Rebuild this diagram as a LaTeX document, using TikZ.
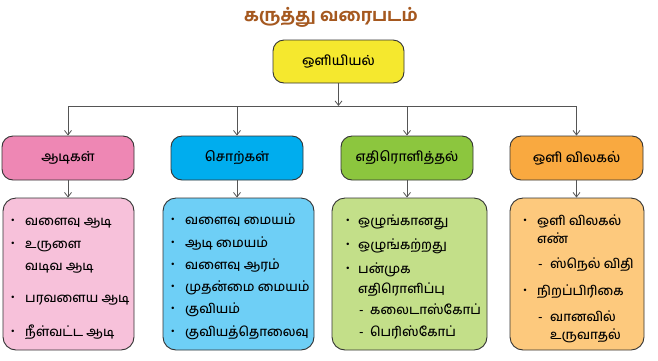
\documentclass[tikz,border=0pt]{standalone}
\usepackage{fontspec}
\setmainfont{Hind Madurai}[Script=Tamil, UprightFont=* Medium, BoldFont=* Bold]
\newfontfamily\symf{DejaVu Sans}
\usetikzlibrary{arrows.meta}
\definecolor{titlec}{HTML}{A5581F}
\definecolor{rootc}{HTML}{F5E82E}
\definecolor{pinkA}{HTML}{EE87B4}
\definecolor{pinkB}{HTML}{F7C1DA}
\definecolor{blueA}{HTML}{00ADEE}
\definecolor{blueB}{HTML}{6ECFF6}
\definecolor{greenA}{HTML}{8CC63E}
\definecolor{greenB}{HTML}{C3DF89}
\definecolor{orA}{HTML}{F9A940}
\definecolor{orB}{HTML}{FDC97D}
\definecolor{edgec}{HTML}{333333}
\definecolor{linec}{HTML}{555555}
\tikzset{
  box/.style={draw=edgec, line width=0.9pt, rounded corners=11pt, align=center, inner sep=0pt, font=\fontsize{13.5}{16}\selectfont},
  catbox/.style={box, minimum width=132pt, minimum height=44pt},
  detbox/.style={draw=edgec, line width=0.9pt, rounded corners=13pt, inner sep=0pt, minimum height=152pt},
  conn/.style={draw=linec, line width=0.8pt},
  arr/.style={conn, -{Straight Barb[length=4.5pt,width=7pt]}},
  txt/.style={anchor=base west, inner sep=0pt, font=\fontsize{13}{15}\selectfont},
  bul/.style={anchor=base, inner sep=0pt, yshift=1.5pt, font=\symf\fontsize{8.5}{9}\selectfont},
}
\begin{document}
\begin{tikzpicture}[x=1pt,y=-1pt]
\useasboundingbox (0,0) rectangle (658,360);
\node[font=\bfseries\fontsize{17.5}{20}\selectfont, text=titlec] (title) at (331,17) {கருத்து வரைபடம்};
\node[catbox, fill=rootc, minimum width=131pt, minimum height=43pt] (root) at (338.5,61.5) {ஒளியியல்};
\node[catbox, fill=pinkA] (c1) at (68,158) {ஆடிகள்};
\node[catbox, fill=blueA] (c2) at (237,158) {சொற்கள்};
\node[catbox, fill=greenA] (c3) at (407,158) {எதிரொளித்தல்};
\node[catbox, fill=orA, minimum width=133pt] (c4) at (576.5,158) {ஒளி விலகல்};
\node[detbox, fill=pinkB, minimum width=131pt] (d1) at (68.5,274) {};
\node[detbox, fill=blueB, minimum width=151pt] (d2) at (238.5,274) {};
\node[detbox, fill=greenB, minimum width=155pt] (d3) at (409.5,274) {};
\node[detbox, fill=orB, minimum width=134pt] (d4) at (577,274) {};
\coordinate (bm) at (338.5,106);
\coordinate (b1) at (68,106);
\coordinate (b2) at (237,106);
\coordinate (b3) at (407,106);
\coordinate (b4) at (576.5,106);
\draw[arr] (root.south) -- (bm);
\draw[conn] (b1) -- (b4);
\draw[arr] (b1) -- (c1.north);
\draw[arr] (b2) -- (c2.north);
\draw[arr] (b3) -- (c3.north);
\draw[arr] (b4) -- (c4.north);
\draw[arr] (c1.south) -- (c1.south |- d1.north);
\draw[arr] (c2.south) -- (c2.south |- d2.north);
\draw[arr] (c3.south) -- (c3.south |- d3.north);
\draw[arr] (c4.south) -- (c4.south |- d4.north);
% box 1
\node[bul] (p11) at (13,225) {•}; \node[txt] (t11) at (25,225) {வளைவு ஆடி};
\node[bul] (p12) at (13,248) {•}; \node[txt] (t12) at (25,248) {உருளை};
\node[txt] (t12b) at (25,270) {வடிவ ஆடி};
\node[bul] (p13) at (13,302) {•}; \node[txt] (t13) at (25,302) {பரவளைய ஆடி};
\node[bul] (p14) at (13,336) {•}; \node[txt] (t14) at (25,336) {நீள்வட்ட ஆடி};
% box 2
\node[bul] (p21) at (173,224) {•}; \node[txt] (t21) at (185,224) {வளைவு மையம்};
\node[bul] (p22) at (173,247) {•}; \node[txt] (t22) at (185,247) {ஆடி மையம்};
\node[bul] (p23) at (173,269) {•}; \node[txt] (t23) at (185,269) {வளைவு ஆரம்};
\node[bul] (p24) at (173,291) {•}; \node[txt] (t24) at (185,291) {முதன்மை மையம்};
\node[bul] (p25) at (173,313) {•}; \node[txt] (t25) at (185,313) {குவியம்};
\node[bul] (p26) at (173,336) {•}; \node[txt] (t26) at (185,336) {குவியத்தொலைவு};
% box 3
\node[bul] (p31) at (348,225) {•}; \node[txt] (t31) at (358,225) {ஒழுங்கானது};
\node[bul] (p32) at (348,249) {•}; \node[txt] (t32) at (358,249) {ஒழுங்கற்றது};
\node[bul] (p33) at (348,273) {•}; \node[txt] (t33) at (358,273) {பன்முக};
\node[txt] (t33b) at (358,293) {எதிரொளிப்பு};
\node[txt] (m31) at (359,314) {-}; \node[txt] (t34) at (370,314) {கலைடாஸ்கோப்};
\node[txt] (m32) at (359,336) {-}; \node[txt] (t35) at (370,336) {பெரிஸ்கோப்};
% box 4
\node[bul] (p41) at (525,225) {•}; \node[txt] (t41) at (537,225) {ஒளி விலகல்};
\node[txt] (t41b) at (537,243) {எண்};
\node[txt] (m41) at (538,268) {-}; \node[txt] (t42) at (550,268) {ஸ்நெல் விதி};
\node[bul] (p42) at (525,295) {•}; \node[txt] (t43) at (537,295) {நிறப்பிரிகை};
\node[txt] (m42) at (538,321) {-}; \node[txt] (t44) at (550,321) {வானவில்};
\node[txt] (t44b) at (550,339) {உருவாதல்};
\end{tikzpicture}
\end{document}
